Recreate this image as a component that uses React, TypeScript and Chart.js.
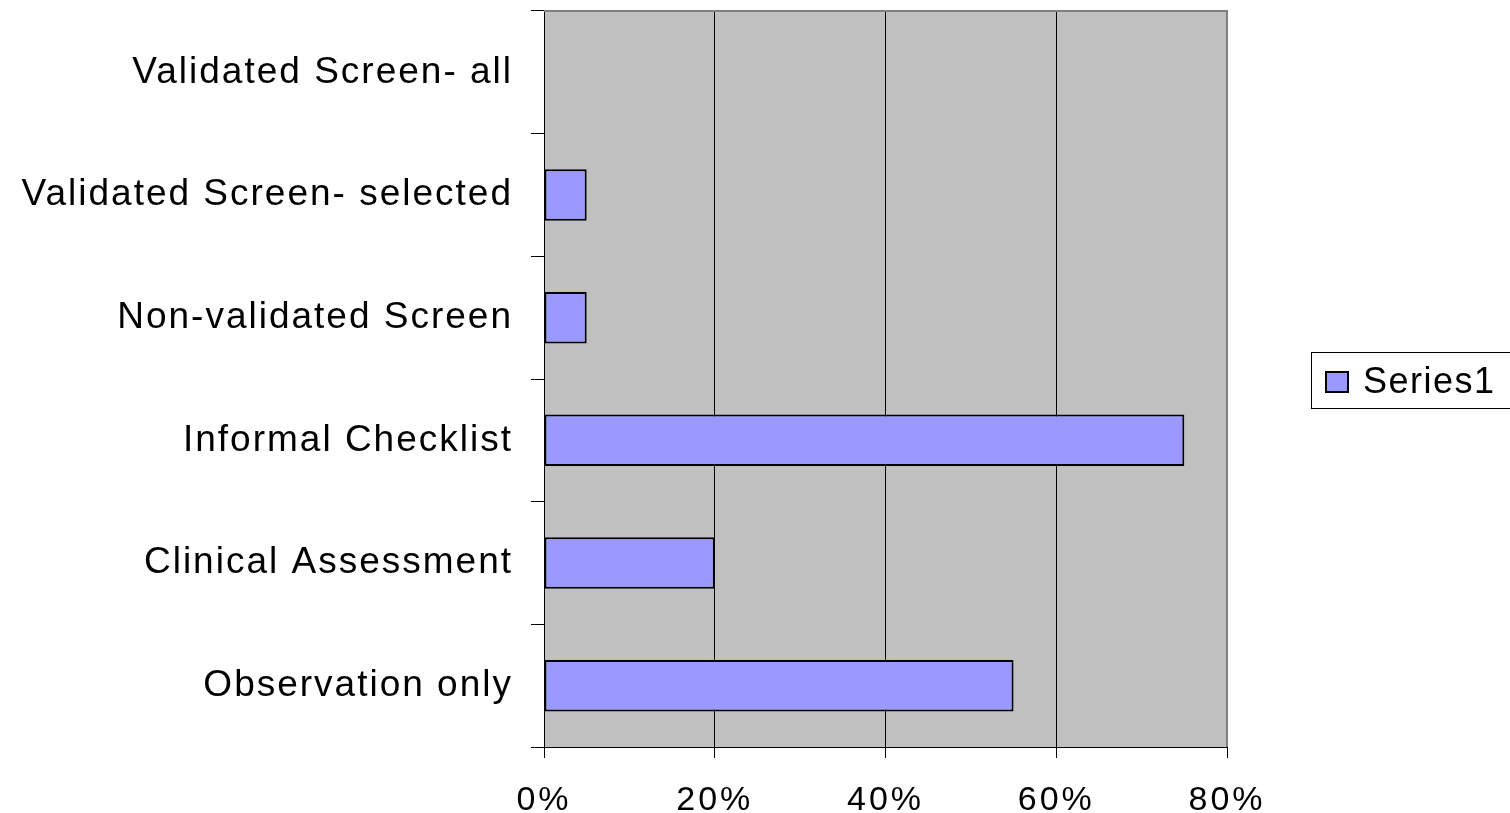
import React, { useEffect, useRef } from "react";
import { Chart, registerables } from "chart.js";

Chart.register(...registerables);

const categories = [
  "Validated Screen- all",
  "Validated Screen- selected",
  "Non-validated Screen",
  "Informal Checklist",
  "Clinical Assessment",
  "Observation only",
];
const series1 = [0, 5, 5, 75, 20, 55];
const seriesName = "Series1";
const xTicks = [0, 20, 40, 60, 80];

const FONT = "'Liberation Sans', Arial, sans-serif";

const spacing: Record<string, string> = { x: "3px", y: "2px" };

const letterSpacingPlugin = {
  id: "letterSpacingPlugin",
  beforeDraw(chart: any) {
    Object.values(chart.scales).forEach((scale: any) => {
      if (scale.__lsPatched) return;
      const orig = scale.drawLabels.bind(scale);
      scale.drawLabels = (area: any) => {
        const ctx = scale.ctx;
        const prev = ctx.letterSpacing;
        ctx.letterSpacing = spacing[scale.id] || "0px";
        orig(area);
        ctx.letterSpacing = prev || "0px";
      };
      scale.__lsPatched = true;
    });
  },
};

const plotBg = {
  id: "plotBg",
  beforeDraw(chart: any) {
    const { ctx, chartArea: a } = chart;
    ctx.save();
    ctx.fillStyle = "#C0C0C0";
    ctx.fillRect(a.left, a.top, a.right - a.left, a.bottom - a.top);
    ctx.restore();
  },
  afterDatasetsDraw(chart: any) {
    const { ctx, chartArea: a } = chart;
    ctx.save();
    ctx.strokeStyle = "#808080";
    ctx.lineWidth = 2;
    ctx.beginPath();
    ctx.moveTo(a.left, a.top);
    ctx.lineTo(a.right, a.top);
    ctx.lineTo(a.right, a.bottom);
    ctx.stroke();
    ctx.strokeStyle = "#000";
    ctx.lineWidth = 1;
    ctx.beginPath();
    ctx.moveTo(a.left, a.bottom + 0.5);
    ctx.lineTo(a.right, a.bottom + 0.5);
    ctx.stroke();
    ctx.restore();
  },
};

const boxLegend = {
  id: "boxLegend",
  afterDraw(chart: any) {
    const { ctx } = chart;
    const ds = chart.data.datasets[0];
    ctx.save();
    ctx.fillStyle = "#fff";
    ctx.fillRect(1311, 352, 210, 56);
    ctx.strokeStyle = "#000";
    ctx.lineWidth = 1;
    ctx.strokeRect(1311.5, 352.5, 210, 56);
    ctx.fillStyle = ds.backgroundColor;
    ctx.fillRect(1326, 372, 22, 20);
    ctx.lineWidth = 2;
    ctx.strokeStyle = "#000";
    ctx.strokeRect(1326, 372, 22, 20);
    ctx.fillStyle = "#000";
    ctx.font = `36px ${FONT}`;
    (ctx as any).letterSpacing = "1.5px";
    ctx.textBaseline = "alphabetic";
    ctx.textAlign = "left";
    ctx.fillText(ds.label, 1363, 393);
    ctx.restore();
  },
};

export default function App() {
  const ref = useRef<HTMLCanvasElement>(null);
  useEffect(() => {
    if (!ref.current) return;
    const chart = new Chart(ref.current, {
      type: "bar",
      data: {
        labels: categories,
        datasets: [
          {
            label: seriesName,
            data: series1,
            backgroundColor: "#9999FF",
            borderColor: "#000",
            borderWidth: 2,
            borderSkipped: false,
            barPercentage: 0.42,
            categoryPercentage: 1,
          },
        ],
      },
      options: {
        indexAxis: "y",
        animation: false,
        responsive: false,
        layout: { padding: { top: 11, right: 283, bottom: 0, left: 0 } },
        plugins: {
          legend: { display: false },
          tooltip: { enabled: false },
        },
        scales: {
          x: {
            min: 0,
            max: 80,
            afterBuildTicks(scale: any) {
              scale.ticks = xTicks.map((v) => ({ value: v }));
            },
            afterFit(scale: any) {
              scale.height = 66;
              scale.paddingLeft = 0;
              scale.paddingRight = 0;
            },
            ticks: {
              color: "#000",
              padding: 22,
              font: { family: FONT, size: 34 },
              callback: (v: any) => `${v}%`,
            },
            grid: { color: "#000", lineWidth: 1, tickLength: 11 },
            border: { color: "#000", width: 1 },
          },
          y: {
            afterFit(scale: any) {
              scale.width = 544;
              scale.paddingTop = 0;
              scale.paddingBottom = 0;
            },
            ticks: {
              color: "#000",
              padding: 18,
              font: { family: FONT, size: 37 },
            },
            grid: {
              offset: true,
              drawOnChartArea: false,
              tickLength: 13,
              color: "#000",
            },
            border: { color: "#000", width: 1 },
          },
        },
      },
      plugins: [letterSpacingPlugin, plotBg, boxLegend],
    });
    return () => chart.destroy();
  }, []);
  return (
    <div style={{ position: "fixed", left: 0, top: 0, width: 1510, height: 813, background: "#fff" }}>
      <canvas ref={ref} width={1510} height={813} />
    </div>
  );
}
